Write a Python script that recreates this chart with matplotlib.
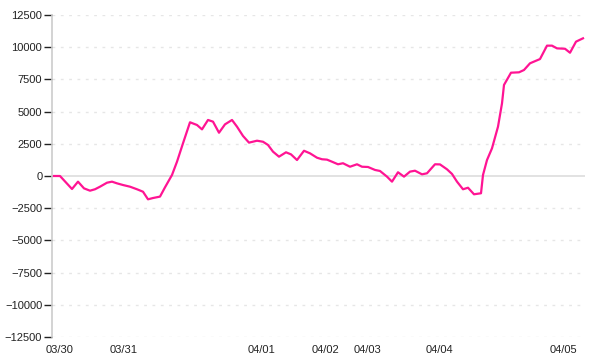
import matplotlib
matplotlib.use("Agg")
import matplotlib.pyplot as plt

# sample position along the time axis and value
t = [0, 6, 18, 24, 30, 36, 41, 46, 53, 58, 63, 69, 76, 83, 89, 94, 99, 106,
     111, 118, 123, 129, 136, 143, 148, 154, 159, 165, 171, 178, 183, 189,
     195, 203, 209, 214, 219, 225, 232, 237, 243, 250, 256, 263, 268, 273,
     278, 284, 289, 296, 303, 308, 314, 321, 326, 333, 338, 344, 350, 356,
     361, 368, 373, 381, 386, 393, 398, 403, 409, 414, 420, 427, 429, 433,
     438, 444, 448, 450, 457, 465, 470, 476, 486, 493, 498, 503, 511, 516,
     522, 529]
values = [0, 0, -1010, -440, -960, -1140, -1030, -830, -520, -440, -570, -700,
          -830, -1030, -1220, -1810, -1710, -1600, -880, 80, 1110, 2540, 4170,
          3960, 3620, 4350, 4220, 3360, 4010, 4350, 3830, 3110, 2590, 2740,
          2660, 2410, 1890, 1500, 1840, 1680, 1240, 1960, 1760, 1420, 1300,
          1270, 1110, 910, 990, 720, 910, 720, 700, 470, 390, -50, -440, 290,
          -50, 340, 410, 130, 210, 910, 900, 520, 160, -440, -1030, -910,
          -1420, -1340, 80, 1240, 2150, 3830, 5640, 7070, 8020, 8050, 8230,
          8750, 9080, 10120, 10120, 9910, 9880, 9570, 10430, 10690]

day_pos = [5.5, 70, 207, 272, 313, 385.5, 509]
day_labels = ["03/30", "03/31", "04/01", "04/02", "04/03", "04/04", "04/05"]
y_ticks = [-12500, -10000, -7500, -5000, -2500, 0, 2500, 5000, 7500, 10000, 12500]

plt.rcParams['font.family'] = ['Liberation Sans', 'DejaVu Sans']

fig = plt.figure(figsize=(6, 3.6), dpi=100)
ax = fig.add_axes([52/600, 23/360, 533/600, 322/360])

# horizontal guide lines
for yv in y_ticks:
    if yv == 0:
        ax.axhline(0, color='#dddddd', lw=1.2, zorder=1)
    else:
        ax.axhline(yv, color='#e6e6e6', lw=1, ls=(0, (2, 4)), zorder=1)

ax.plot(t, values, color='#ff1493', lw=1.6, zorder=3, solid_joinstyle='round')

ax.set_xlim(-2, 531)
ax.set_ylim(-12500, 12500)
ax.set_yticks(y_ticks)
ax.set_yticklabels([str(v).replace('-', '\u2212') for v in y_ticks])
ax.set_xticks(day_pos)
ax.set_xticklabels(day_labels)

for side in ['top', 'right', 'bottom']:
    ax.spines[side].set_visible(False)
ax.spines['left'].set_color('#cccccc')
ax.spines['left'].set_linewidth(1.2)

ax.tick_params(axis='y', length=6, width=1, color='#222222', labelsize=8,
               labelcolor='#222222', pad=1)
ax.tick_params(axis='x', length=0, labelsize=8, labelcolor='#222222', pad=6)

fig.savefig('out.png', dpi=100)
